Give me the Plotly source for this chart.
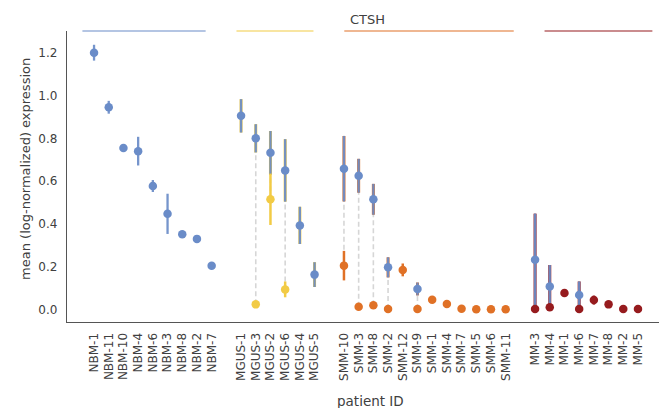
import plotly.graph_objects as go

# ---- data: CTSH mean (log-normalized) expression per patient ----
group_names = ["NBM", "MGUS", "SMM", "MM"]
group_colors = ["#6a8cc8", "#f2cb45", "#e07126", "#961b1e"]
normal_color = "#6a8cc8"

nbm_ids = ["NBM-1", "NBM-11", "NBM-10", "NBM-4", "NBM-6", "NBM-3", "NBM-8", "NBM-2", "NBM-7"]
nbm_normal = [1.20, 0.945, 0.755, 0.740, 0.577, 0.447, 0.352, 0.330, 0.204]
nbm_normal_err = [0.037, 0.030, 0.005, 0.067, 0.028, 0.094, 0.005, 0.012, 0.006]
nbm_tumor = [None] * 9
nbm_tumor_err = [None] * 9

mgus_ids = ["MGUS-1", "MGUS-3", "MGUS-2", "MGUS-6", "MGUS-4", "MGUS-5"]
mgus_normal = [0.905, 0.800, 0.732, 0.650, 0.393, 0.163]
mgus_normal_err = [0.078, 0.066, 0.102, 0.146, 0.087, 0.058]
mgus_tumor = [None, 0.024, 0.515, 0.094, None, None]
mgus_tumor_err = [None, 0.005, 0.120, 0.037, None, None]

smm_ids = ["SMM-10", "SMM-3", "SMM-8", "SMM-2", "SMM-12", "SMM-9",
           "SMM-1", "SMM-4", "SMM-7", "SMM-5", "SMM-6", "SMM-11"]
smm_normal = [0.658, 0.625, 0.515, 0.197, None, 0.096, None, None, None, None, None, None]
smm_normal_err = [0.153, 0.079, 0.072, 0.047, None, 0.030, None, None, None, None, None, None]
smm_tumor = [0.205, 0.013, 0.020, 0.002, 0.185, 0.002, 0.046, 0.026, 0.004, 0.001, 0.001, 0.001]
smm_tumor_err = [0.069, 0.003, 0.004, 0.002, 0.030, 0.002, 0.004, 0.004, 0.002, 0.001, 0.001, 0.001]

mm_ids = ["MM-3", "MM-4", "MM-1", "MM-6", "MM-7", "MM-8", "MM-2", "MM-5"]
mm_normal = [0.233, 0.108, None, 0.068, None, None, None, None]
mm_normal_err = [0.215, 0.100, None, 0.063, None, None, None, None]
mm_tumor = [0.002, 0.010, 0.077, 0.002, 0.044, 0.024, 0.002, 0.002]
mm_tumor_err = [0.002, 0.003, 0.004, 0.002, 0.021, 0.004, 0.001, 0.001]

groups = [
    (nbm_ids, nbm_normal, nbm_normal_err, nbm_tumor, nbm_tumor_err),
    (mgus_ids, mgus_normal, mgus_normal_err, mgus_tumor, mgus_tumor_err),
    (smm_ids, smm_normal, smm_normal_err, smm_tumor, smm_tumor_err),
    (mm_ids, mm_normal, mm_normal_err, mm_tumor, mm_tumor_err),
]

FONT = "DejaVu Sans"
TEXT = "#404040"

# slot positions: one empty slot between consecutive groups
tick_vals, tick_text, spans = [], [], []
positions = []
slot = 0
for ids, *_ in groups:
    xs = list(range(slot, slot + len(ids)))
    positions.append(xs)
    spans.append((xs[0], xs[-1]))
    tick_vals += xs
    tick_text += ids
    slot += len(ids) + 1
n_slots = tick_vals[-1] + 1  # number of occupied + gap slots

fig = go.Figure()

# dashed connectors between the two measurements of one patient
cx, cy = [], []
for xs, (ids, nm, ne, tm, te) in zip(positions, groups):
    for x, a, b in zip(xs, nm, tm):
        if a is not None and b is not None:
            cx += [x, x, None]
            cy += [b, a, None]
fig.add_trace(go.Scatter(x=cx, y=cy, mode="lines", hoverinfo="skip",
                         line=dict(color="#d6d6d6", width=1.6, dash="5px,3px")))

# normal-cell means with error bars (lightly tinted by the group underneath)
for gi, (xs, (ids, nm, ne, tm, te)) in enumerate(zip(positions, groups)):
    px = [x for x, v in zip(xs, nm) if v is not None]
    py = [v for v in nm if v is not None]
    pe = [e for v, e in zip(nm, ne) if v is not None]
    if gi > 0:
        fig.add_trace(go.Scatter(
            x=px, y=py, mode="markers", marker=dict(size=1, opacity=0),
            error_y=dict(type="data", array=pe, color=group_colors[gi],
                         thickness=3.0, width=0), hoverinfo="skip"))
    fig.add_trace(go.Scatter(
        x=px, y=py, mode="markers",
        marker=dict(size=8.5, color=normal_color),
        error_y=dict(type="data", array=pe, color="rgba(106,140,200,0.92)",
                     thickness=2.3, width=0)))

# tumor-cell means per disease stage
for gi, (xs, (ids, nm, ne, tm, te)) in enumerate(zip(positions, groups)):
    px = [x for x, v in zip(xs, tm) if v is not None]
    if not px:
        continue
    py = [v for v in tm if v is not None]
    pe = [e for v, e in zip(tm, te) if v is not None]
    fig.add_trace(go.Scatter(
        x=px, y=py, mode="markers",
        marker=dict(size=8.5, color=group_colors[gi]),
        error_y=dict(type="data", array=pe, color=group_colors[gi],
                     thickness=2.5, width=0)))

# group brackets along the top edge
bracket_span = n_slots + 0.43
shapes = []
for (a, b), col in zip(spans, group_colors):
    shapes.append(dict(type="line", xref="paper", yref="paper",
                       x0=(a + 1) / bracket_span, x1=(b + 1) / bracket_span,
                       y0=1.0, y1=1.0, line=dict(color=col, width=1.2)))

fig.update_layout(
    width=659, height=408,
    margin=dict(l=67, r=0, t=31, b=86),
    paper_bgcolor="white", plot_bgcolor="white",
    showlegend=False,
    font=dict(family=FONT, size=12, color=TEXT),
    shapes=shapes,
    annotations=[
        dict(text="CTSH", xref="paper", yref="paper", x=0.507, y=1.0,
             yanchor="middle", yshift=12, showarrow=False,
             font=dict(size=13, color=TEXT)),
        dict(text="patient ID", xref="paper", yref="paper", x=0.512, y=0,
             xanchor="center", yanchor="middle", yshift=-79, showarrow=False,
             font=dict(size=13.5, color=TEXT)),
        dict(text="mean (log-normalized) expression", xref="paper", yref="paper",
             x=0, xshift=-41, xanchor="center", y=0.526, yanchor="middle",
             textangle=-90, showarrow=False,
             font=dict(size=13, color=TEXT)),
    ],
)
fig.update_xaxes(
    range=[-1.84, n_slots + 0.43],
    tickmode="array", tickvals=tick_vals, ticktext=tick_text,
    tickangle=-90, ticks="", showgrid=False, zeroline=False,
    ticklabelstandoff=5,
    showline=True, linecolor="#555555", linewidth=1.3,
    tickfont=dict(size=12, color=TEXT),
)
fig.update_yaxes(
    range=[-0.0584, 1.3014],
    tickvals=[0, 0.2, 0.4, 0.6, 0.8, 1.0, 1.2],
    ticktext=["0.0", "0.2", "0.4", "0.6", "0.8", "1.0", "1.2"],
    ticks="", showgrid=False, zeroline=False, ticklabelstandoff=6,
    showline=True, linecolor="#555555", linewidth=1.3,
    tickfont=dict(size=12, color=TEXT),
)

fig.write_html("out.html")
